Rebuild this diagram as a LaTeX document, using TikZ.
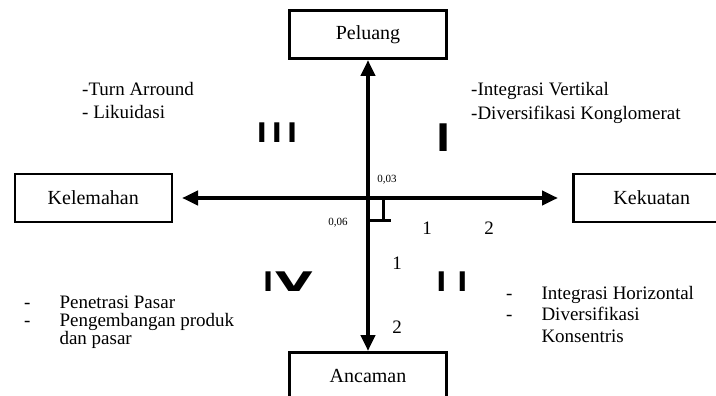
\documentclass[tikz,border=0pt]{standalone}
\usepackage{fontspec}
\setmainfont{Liberation Serif}
\newfontfamily\romanfont{DejaVu Sans}
\usepackage{graphicx}
\usetikzlibrary {arrows.meta,
                 positioning}
\tikzset{
        box/.style={draw, line width=2.5pt, minimum width=157pt,
                    minimum height=48pt, inner sep=0pt,
                    font=\fontsize{20}{24}\selectfont},
        axis/.style={{Triangle[length=16pt,width=14pt]}-{Triangle[length=16pt,width=14pt]},
                     line width=4pt},
        rightmark/.style={line width=3pt},
        num/.style={inner sep=0pt, font=\fontsize{19}{22}\selectfont},
        small/.style={inner sep=0pt, font=\fontsize{11}{13}\selectfont},
        quad/.style={inner sep=0pt, font=\romanfont\bfseries\fontsize{27}{30}\selectfont},
        strategy/.style={inner sep=0pt, anchor=base west},
 }

\begin{document}
\begin{tikzpicture}[x=1pt, y=-1pt]
    \useasboundingbox (0,0) rectangle (716,396);
    \clip (0,0) rectangle (716,396);

    \coordinate (o) at (368,198);

    \node[box, above=138pt of o] (pel) {Peluang};
    \node[box, below=153pt of o] (anc) {Ancaman};
    \node[box, left=195pt of o]  (kel) {Kelemahan};
    \node[box, right=204pt of o] (kek) {Kekuatan};

    \draw[axis, shorten <=9pt, shorten >=14pt] (kel) -- (kek);
    \draw[axis] (pel) -- (anc);

    \draw[rightmark] (o) ++(15,1) -- ++(0,21) ++(-13,0) -- ++(21,0);

    \node[small] (w1) at (387,180) {0,03};
    \node[small] (w2) at (338,223) {0,06};
    \node[num] (h1) at (427,228) {1};
    \node[num] (h2) at (489,228) {2};
    \node[num] (v1) at (397,263) {1};
    \node[num] (v2) at (397,327) {2};

    \node[quad] (q3) at (277,133) {I\hspace{5pt}I\hspace{5pt}I};
    \node[quad, font=\romanfont\bfseries\fontsize{38}{40}\selectfont] (q1) at (444,138) {I};
    \node[quad] (q4) at (288,282) {I\hspace{2pt}\scalebox{1.8}[1]{V}};
    \node[quad] (q2) at (452,282) {I\hspace{11pt}I};

    \node[strategy, font=\fontsize{19}{22}\selectfont] (s3) at (82,96)
         {\begin{tabular}[t]{@{}l@{}}-Turn Arround\\- Likuidasi\end{tabular}};
    \node[strategy, font=\fontsize{19}{24}\selectfont] (s1) at (471,96)
         {\begin{tabular}[t]{@{}l@{}}-Integrasi Vertikal\\-Diversifikasi Konglomerat\end{tabular}};
    \node[strategy, font=\fontsize{19}{17}\selectfont] (s4) at (24,308)
         {\begin{tabular}[t]{@{}l@{\hspace{29pt}}l@{}}-&Penetrasi Pasar\\
          -&Pengembangan produk\\ &dan pasar\end{tabular}};
    \node[strategy, font=\fontsize{19}{21.5}\selectfont] (s2) at (506,299)
         {\begin{tabular}[t]{@{}l@{\hspace{29pt}}l@{}}-&Integrasi Horizontal\\
          -&Diversifikasi\\ &Konsentris\end{tabular}};
\end{tikzpicture}
\end{document}
